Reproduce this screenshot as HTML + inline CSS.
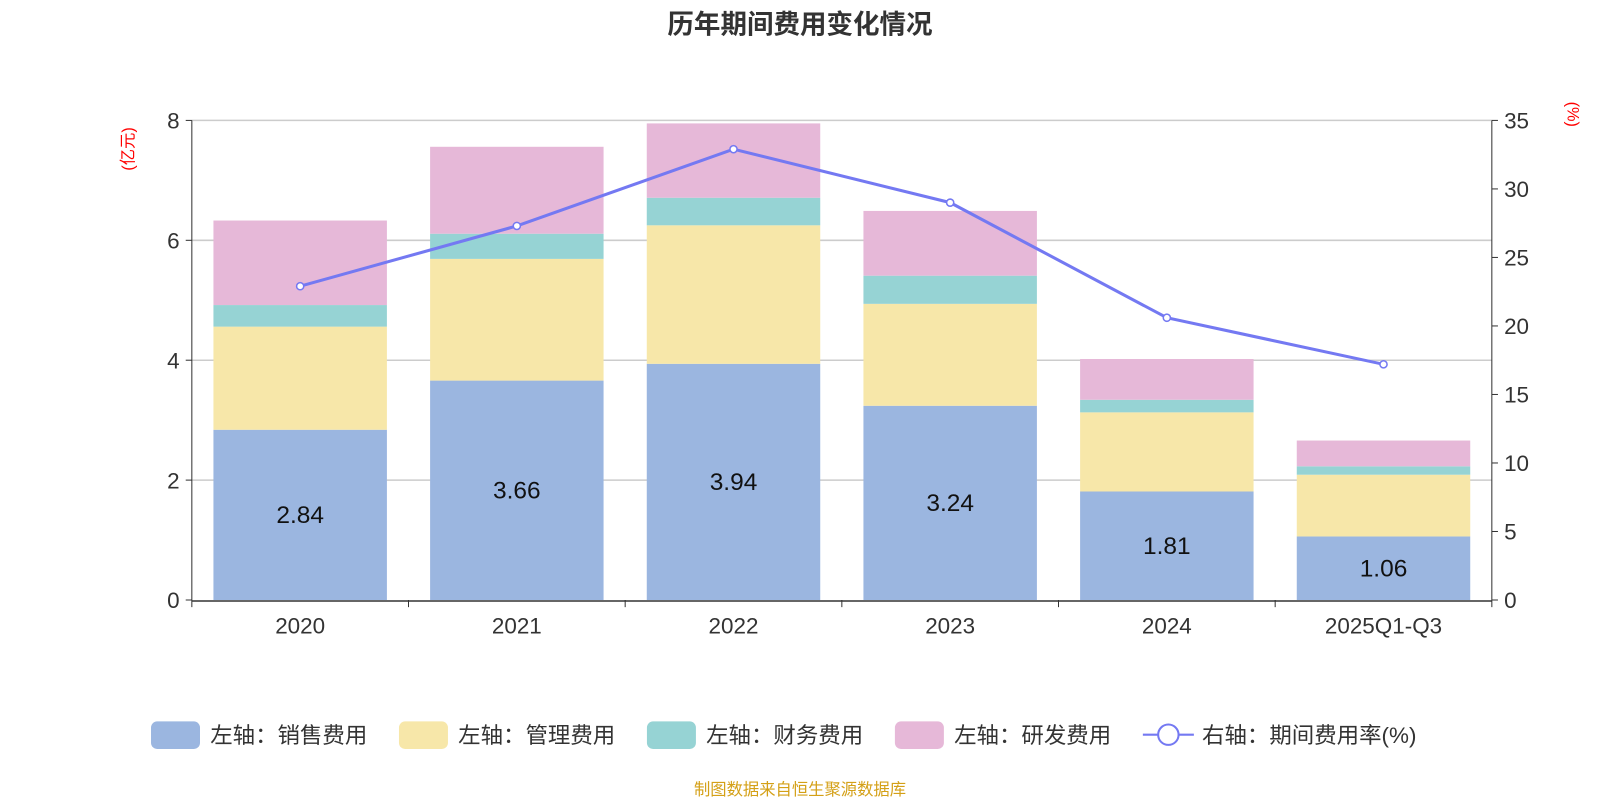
<!DOCTYPE html>
<html><head><meta charset="utf-8"><style>
body{margin:0;background:#fff;width:1600px;height:800px;overflow:hidden;font-family:"Liberation Sans","Noto Sans CJK SC",sans-serif}
</style></head><body>
<svg id="c" width="1600" height="800" viewBox="0 0 1568 784" xmlns="http://www.w3.org/2000/svg" font-family="Liberation Sans, Noto Sans CJK SC, sans-serif">
<text x="784" y="33" text-anchor="middle" font-size="26" font-weight="bold" fill="#333">历年期间费用变化情况</text>
<text transform="translate(131,146) rotate(-90)" text-anchor="middle" font-size="16" fill="red">(亿元)</text>
<text transform="translate(1536,112) rotate(90)" text-anchor="middle" font-size="16" fill="red">(%)</text>
<g id="grid"></g><g id="bars"></g><g id="line"></g><g id="axes"></g>
<g id="legend" font-size="20" fill="#333"></g>
<text x="784" y="779" text-anchor="middle" font-size="16" fill="#d4a017">制图数据来自恒生聚源数据库</text>
</svg>
<script>
const categories=["2020","2021","2022","2023","2024","2025Q1-Q3"];
const sales=[2.84,3.66,3.94,3.24,1.81,1.06];
const mgmt=[1.72,2.03,2.31,1.70,1.32,1.03];
const fin=[0.36,0.42,0.46,0.47,0.21,0.14];
const rd=[1.41,1.45,1.24,1.08,0.68,0.43];
const rate=[22.9,27.3,32.9,29.0,20.6,17.2];
const leftTicks=[0,2,4,6,8];
const rightTicks=[0,5,10,15,20,25,30,35];
const names=["左轴：销售费用","左轴：管理费用","左轴：财务费用","左轴：研发费用","右轴：期间费用率(%)"];
const colors=["#9bb6e0","#f7e7a9","#96d3d4","#e6b8d8","#7479f2"];
const X0=188,X1=1462,Y0=588,Y1=118;
const NS="http://www.w3.org/2000/svg";
const bw=(X1-X0)/categories.length;
const yL=v=>Y0-(v/8)*(Y0-Y1);
const yR=v=>Y0-(v/35)*(Y0-Y1);
const xC=i=>X0+bw*(i+0.5);
function mk(t,a,p){const e=document.createElementNS(NS,t);for(const k in a)e.setAttribute(k,a[k]);p.appendChild(e);return e;}
const g=document.getElementById('grid'),b=document.getElementById('bars'),l=document.getElementById('line'),ax=document.getElementById('axes'),lg=document.getElementById('legend');
leftTicks.forEach(v=>{
 if(v>0){const gl=mk('line',{x1:X0,x2:X1,y1:yL(v),y2:yL(v),stroke:'#ccc','stroke-width':1.5},g);
 
 }
 mk('line',{x1:X0-6,x2:X0,y1:yL(v),y2:yL(v),stroke:'#333'},ax);
 const t=mk('text',{x:X0-12,y:yL(v)+8,'text-anchor':'end','font-size':22,fill:'#333'},ax);t.textContent=v;
 
 
});
rightTicks.forEach(v=>{
 mk('line',{x1:X1,x2:X1+6,y1:yR(v),y2:yR(v),stroke:'#333'},ax);
 const t=mk('text',{x:X1+12,y:yR(v)+8,'font-size':22,fill:'#333'},ax);t.textContent=v;
 
 
});
mk('line',{x1:X0,x2:X0,y1:Y1,y2:Y0,stroke:'#333'},ax);
mk('line',{x1:X1,x2:X1,y1:Y1,y2:Y0,stroke:'#333'},ax);
mk('line',{x1:X0,x2:X1,y1:Y0+1,y2:Y0+1,stroke:'#333','stroke-width':1.5},ax);
for(let i=0;i<=categories.length;i++)mk('line',{x1:X0+bw*i,x2:X0+bw*i,y1:Y0,y2:Y0+7,stroke:'#333'},ax);
const series=[sales,mgmt,fin,rd];
categories.forEach((c,i)=>{
 let acc=0;
 series.forEach((s,k)=>{
  const r=mk('rect',{x:xC(i)-85,width:170,y:yL(acc+s[i]),height:yL(acc)-yL(acc+s[i]),fill:colors[k]},b);
  
  
  acc+=s[i];
 });
 const t=mk('text',{x:xC(i),y:(yL(0)+yL(sales[i]))/2+8,'text-anchor':'middle','font-size':24,fill:'#111'},b);t.textContent=sales[i].toFixed(2);
 
 
 const xl=mk('text',{x:xC(i),y:621,'text-anchor':'middle','font-size':22,fill:'#333'},ax);xl.textContent=c;
 
 
});
const pl=mk('polyline',{points:rate.map((v,i)=>xC(i)+','+yR(v)).join(' '),fill:'none',stroke:colors[4],'stroke-width':3},l);


rate.forEach((v,i)=>{const p=mk('circle',{cx:xC(i),cy:yR(v),r:3.5,fill:'#fff',stroke:colors[4],'stroke-width':1.5},l);
 
 });
const lx=[148,391,634,877,1120];
names.forEach((n,k)=>{
 const x=lx[k];
 if(k<4){const r=mk('rect',{x:x,y:707,width:48,height:27,rx:6,fill:colors[k]},lg);
  
  }
 else{mk('line',{x1:x,x2:x+50,y1:720,y2:720,stroke:colors[4],'stroke-width':2},lg);
  const c=mk('circle',{cx:x+25,cy:720,r:10,fill:'#fff',stroke:colors[4],'stroke-width':2},lg);
  
  }
 const t=mk('text',{x:x+58,y:728,'font-size':22,fill:'#333'},lg);t.textContent=n;
 
 
});
</script>
</body></html>
